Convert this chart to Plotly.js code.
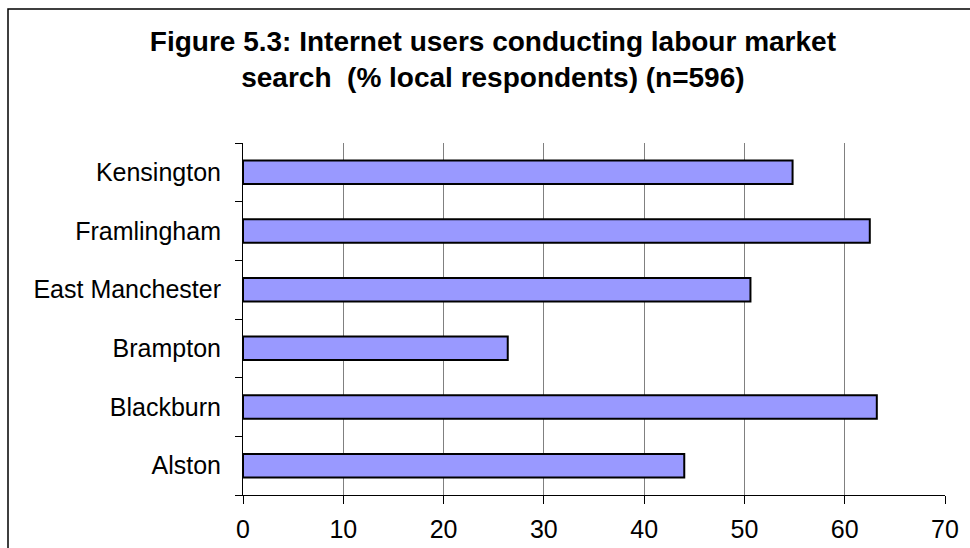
<!DOCTYPE html>
<html>
<head>
<meta charset="utf-8">
<script src="https://cdn.plot.ly/plotly-3.0.1.min.js"></script>
<style>html,body{margin:0;padding:0;background:#fff;}#chart{width:970px;height:548px;}</style>
</head>
<body>
<div id="chart"></div>
<script>
const categories = ["Alston", "Blackburn", "Brampton", "East Manchester", "Framlingham", "Kensington"];
const values = [44.0, 63.2, 26.4, 50.6, 62.5, 54.8];
const xTicks = [0, 10, 20, 30, 40, 50, 60, 70];
const titleText = "<b>Figure 5.3: Internet users conducting labour market<br>search  (% local respondents) (n=596)</b>";

const font = "'Liberation Sans', Arial, sans-serif";

const trace = {
  type: "bar",
  orientation: "h",
  y: categories,
  x: values,
  marker: {color: "#9999FF", line: {color: "#000000", width: 2}},
  hoverinfo: "x+y"
};

const layout = {
  width: 970,
  height: 548,
  margin: {l: 243, r: 25, t: 143, b: 53, pad: 0},
  paper_bgcolor: "#ffffff",
  plot_bgcolor: "#ffffff",
  showlegend: false,
  bargap: 0.6,
  font: {family: font, color: "#000000", size: 22},
  title: {
    text: titleText,
    font: {family: font, size: 28, color: "#000000"},
    x: 0.356, xref: "paper", xanchor: "center",
    y: 1 - 51/548, yref: "container", yanchor: "top"
  },
  xaxis: {
    range: [0, 70],
    tickvals: xTicks,
    ticktext: xTicks.map(String),
    showgrid: true,
    gridcolor: "#808080",
    gridwidth: 1,
    zeroline: false,
    showline: true,
    linecolor: "#000000",
    linewidth: 1,
    ticks: "outside",
    ticklen: 8,
    tickcolor: "#000000",
    tickfont: {family: font, size: 25, color: "#000000"},
    ticklabelstandoff: 4,
    fixedrange: true
  },
  yaxis: {
    type: "category",
    categoryorder: "array",
    categoryarray: categories,
    showgrid: false,
    zeroline: false,
    showline: true,
    linecolor: "#000000",
    linewidth: 1,
    ticks: "outside",
    tickson: "boundaries",
    ticklen: 7,
    tickcolor: "#000000",
    tickfont: {family: font, size: 25, color: "#000000"},
    ticklabelstandoff: 16,
    fixedrange: true
  },
  shapes: [{
    type: "rect",
    xref: "paper", yref: "paper",
    x0: (8 - 243) / 702, x1: 1.2,
    y0: -0.3, y1: (495 - 9) / 352,
    line: {color: "#000000", width: 1.5},
    fillcolor: "rgba(0,0,0,0)",
    layer: "below"
  }]
};

Plotly.newPlot("chart", [trace], layout, {displayModeBar: false, staticPlot: true});
</script>
</body>
</html>
